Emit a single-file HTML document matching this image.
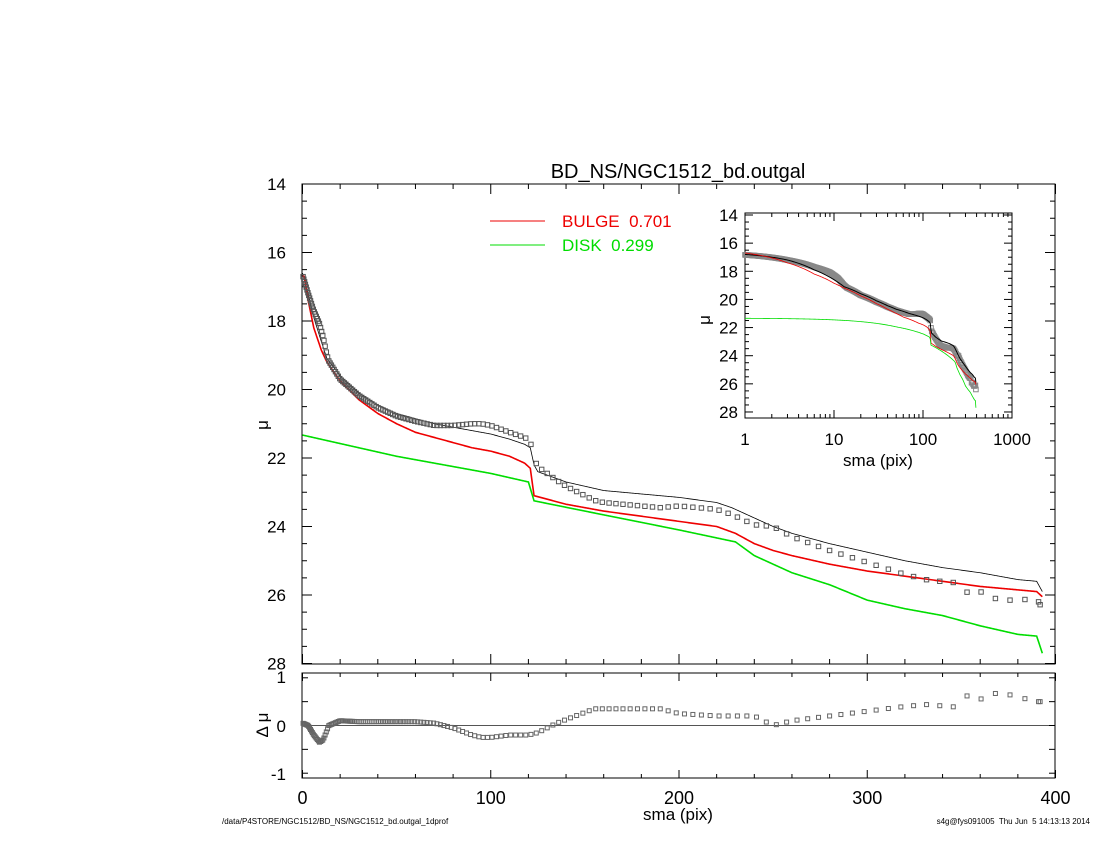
<!DOCTYPE html>
<html><head><meta charset="utf-8"><style>
body{margin:0;background:#fff;}
svg{display:block;font-family:"Liberation Sans",sans-serif;}
</style></head><body>
<svg id="s" width="1100" height="850" xmlns="http://www.w3.org/2000/svg">
<rect width="1100" height="850" fill="#fff"/>
<text x="678" y="178" font-size="20" text-anchor="middle">BD_NS/NGC1512_bd.outgal</text>
<line x1="490" y1="221" x2="545" y2="221" stroke="#e00" stroke-width="1"/>
<text x="562" y="227" font-size="17" fill="#e00">BULGE&#160;&#160;0.701</text>
<line x1="490" y1="245" x2="545" y2="245" stroke="#0d0" stroke-width="1"/>
<text x="562" y="251" font-size="17" fill="#0d0">DISK&#160;&#160;0.299</text>
<text x="678" y="820" font-size="17" text-anchor="middle">sma (pix)</text>
<text x="268" y="425" font-size="17" text-anchor="middle" transform="rotate(-90 268 425)">μ</text>
<text x="268" y="725" font-size="17" text-anchor="middle" transform="rotate(-90 268 725)">Δ μ</text>
<text x="878" y="466" font-size="17" text-anchor="middle">sma (pix)</text>
<text x="710" y="320" font-size="17" text-anchor="middle" transform="rotate(-90 710 320)">μ</text>
<text x="222" y="824" font-size="8">/data/P4STORE/NGC1512/BD_NS/NGC1512_bd.outgal_1dprof</text>
<text x="1090" y="824" font-size="8" text-anchor="end" xml:space="preserve">s4g@fys091005  Thu Jun  5 14:13:13 2014</text>
<g id="g"></g>
</svg>
<script>
var g=document.getElementById('g'),h='';
function L(a,b,c,d,col,w){h+='<line x1="'+a+'" y1="'+b+'" x2="'+c+'" y2="'+d+'" stroke="'+(col||'#000')+'" stroke-width="'+(w||1)+'"/>';}
function T(x,y,t,s,anc){h+='<text x="'+x+'" y="'+y+'" font-size="'+s+'" text-anchor="'+(anc||'middle')+'">'+t+'</text>';}
function interp(d,x){if(x<=d[0][0])return d[0][1];for(var i=1;i<d.length;i++){if(x<=d[i][0]){var a=d[i-1],b=d[i];return a[1]+(b[1]-a[1])*(x-a[0])/(b[0]-a[0]);}}return d[d.length-1][1];}
var blk=[[0,16.6],[3,17.2],[6,17.9],[10,18.6],[13,19.1],[20,19.6],[30,20.1],[40,20.45],[50,20.7],[60,20.85],[70,21.0],[80,21.1],[90,21.2],[100,21.3],[110,21.45],[118,21.6],[121,21.7],[123,22.2],[125,22.4],[140,22.7],[160,22.95],[180,23.05],[200,23.15],[220,23.3],[228,23.45],[240,23.75],[250,24.0],[260,24.2],[280,24.5],[300,24.75],[320,25.0],[340,25.2],[360,25.35],[380,25.55],[390,25.6],[393,25.9]];
var red=[[1,16.7],[3,17.4],[6,18.2],[10,18.85],[13,19.2],[20,19.75],[30,20.3],[40,20.7],[50,21.0],[60,21.25],[70,21.4],[80,21.55],[90,21.7],[100,21.8],[110,21.95],[118,22.15],[121,22.3],[123,23.1],[140,23.35],[160,23.55],[180,23.7],[200,23.85],[220,24.0],[230,24.2],[240,24.5],[250,24.7],[260,24.85],[280,25.1],[300,25.3],[320,25.45],[340,25.6],[360,25.75],[380,25.85],[390,25.9],[393,26.05]];
var grn=[[0,21.33],[50,21.95],[100,22.45],[120,22.7],[123,23.25],[150,23.55],[200,24.1],[230,24.45],[240,24.85],[260,25.35],[280,25.7],[300,26.15],[320,26.4],[340,26.6],[360,26.9],[380,27.15],[390,27.2],[393,27.7]];
var res=[[0,0.05],[3,0],[6,-0.2],[9,-0.35],[11,-0.3],[14,0],[20,0.1],[30,0.08],[60,0.08],[70,0.05],[80,-0.05],[90,-0.2],[95,-0.25],[100,-0.25],[110,-0.2],[120,-0.2],[125,-0.15],[135,0.05],[145,0.2],[155,0.35],[165,0.35],[190,0.35],[200,0.25],[220,0.2],[240,0.2],[250,0.0],[260,0.1],[280,0.2],[300,0.3],[320,0.4],[335,0.45],[345,0.35],[350,0.65],[360,0.55],[370,0.7],[380,0.6],[390,0.5]];
var X=function(x){return 302.5+x*1.8825;},Y=function(m){return 184+(m-14)*34.25;};
var RY=function(d){return 725.5-d*47.7;};
var IX=function(x){return 745+Math.log10(x)*89;},IY=function(m){return 215+(m-14)*14.07;};
var pts=[],x=0.3;while(x<392){pts.push(x);x=x+0.4+0.02*x;}pts.push(391);
h+='<rect x="302" y="184" width="753" height="480" fill="none" stroke="#000"/>';
for(var m=14;m<=28;m+=0.5){var y=Y(m),big=(m%2==0);L(302,y,302+(big?10:5),y);L(1055,y,1055-(big?10:5),y);if(big)T(286,y+6,m,17,'end');}
for(var v=0;v<=400;v+=20){var xx=X(v),big=(v%100==0);L(xx,184,xx,184+(big?10:5));L(xx,664,xx,664-(big?10:5));L(xx,673,xx,673+(big?8:4));L(xx,778,xx,778-(big?8:4));if(big)T(xx,804,v,18);}
function poly(d,f,col,w,xf,yf){var s='';for(var i=0;i<d.length;i++){s+=xf(d[i])+','+yf(f(d[i]))+' ';}h+='<polyline points="'+s+'" fill="none" stroke="'+col+'" stroke-width="'+w+'"/>';}
var fine=[];for(var t=0;t<=393;t+=0.5)fine.push(t);
poly(fine,function(t){return interp(blk,t);},'#000',0.8,X,Y);
poly(fine,function(t){return interp(red,t);},'#e00',1.6,X,Y);
poly(fine,function(t){return interp(grn,t);},'#0d0',1.6,X,Y);
pts.forEach(function(p){var mv=interp(blk,p)+interp(res,p);var xx=X(p),yy=Y(mv);if(yy<664)h+='<rect x="'+(xx-2.2)+'" y="'+(yy-2.2)+'" width="4.4" height="4.4" fill="none" stroke="#555" stroke-width="1"/>';});
h+='<rect x="302" y="673" width="753" height="105" fill="none" stroke="#000"/>';
L(302,725.5,1055,725.5,'#555',1);
[[1,677],[0,726],[-1,774]].forEach(function(a){T(286,a[1]+6,a[0]==-1?'-1':a[0],17,'end');});
for(var d=-1;d<=1;d+=0.5){var y=RY(d);L(302,y,308,y);L(1055,y,1049,y);}
pts.forEach(function(p){var xx=X(p),yy=RY(interp(res,p));h+='<rect x="'+(xx-2)+'" y="'+(yy-2)+'" width="4" height="4" fill="none" stroke="#666" stroke-width="1"/>';});
h+='<rect x="745" y="213" width="267" height="205" fill="#fff" stroke="#000"/>';
for(var m=14;m<=28;m+=0.5){var y=IY(m),big=(m%2==0);L(745,y,745+(big?8:4),y);L(1012,y,1012-(big?8:4),y);if(big)T(738,y+6,m,17,'end');}
for(var dec=0;dec<3;dec++){for(var k=1;k<10;k++){var xx=IX(k*Math.pow(10,dec));var big=k==1;L(xx,213,xx,213+(big?8:4));L(xx,418,xx,418-(big?8:4));}}
[1,10,100,1000].forEach(function(v){T(IX(v),445,v,17);});
var lf=[];for(var t=1;t<=393;t*=1.02)lf.push(t);lf.push(393);
lf.forEach(function(p){var yy=IY(interp(blk,p)+interp(res,p));h+='<rect x="'+(IX(p)-2.3)+'" y="'+(yy-2.3)+'" width="4.6" height="4.6" fill="none" stroke="#888" stroke-width="1"/>';});
poly(lf,function(t){return interp(blk,t);},'#000',1,IX,IY);
poly(lf,function(t){return interp(red,t);},'#e00',0.8,IX,IY);
poly(lf,function(t){return interp(grn,t);},'#0d0',0.8,IX,IY);
g.innerHTML=h;
</script>
</body></html>
